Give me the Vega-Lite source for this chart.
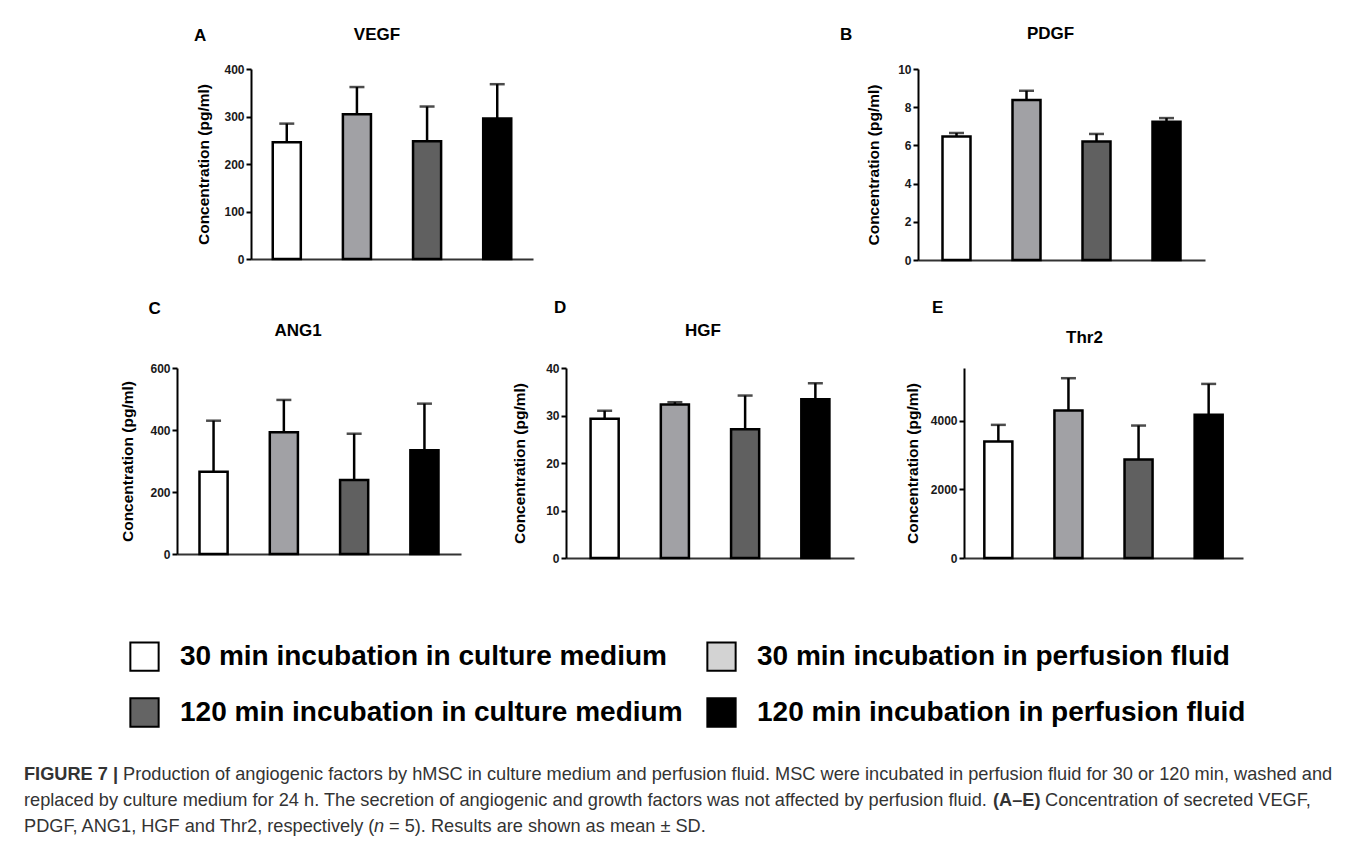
{
  "$schema": "https://vega.github.io/schema/vega-lite/v6.json",
  "background": "white",
  "padding": {"left": 24, "top": 25, "right": 0, "bottom": 0},
  "datasets": {
    "bars": [
      {"panel": "VEGF", "group": "30 min incubation in culture medium", "mean": 246, "upper": 285},
      {"panel": "VEGF", "group": "30 min incubation in perfusion fluid", "mean": 305, "upper": 362},
      {"panel": "VEGF", "group": "120 min incubation in culture medium", "mean": 248, "upper": 321},
      {"panel": "VEGF", "group": "120 min incubation in perfusion fluid", "mean": 296, "upper": 368},
      {"panel": "PDGF", "group": "30 min incubation in culture medium", "mean": 6.46, "upper": 6.65},
      {"panel": "PDGF", "group": "30 min incubation in perfusion fluid", "mean": 8.38, "upper": 8.86},
      {"panel": "PDGF", "group": "120 min incubation in culture medium", "mean": 6.21, "upper": 6.6},
      {"panel": "PDGF", "group": "120 min incubation in perfusion fluid", "mean": 7.24, "upper": 7.43},
      {"panel": "ANG1", "group": "30 min incubation in culture medium", "mean": 265, "upper": 430},
      {"panel": "ANG1", "group": "30 min incubation in perfusion fluid", "mean": 393, "upper": 497},
      {"panel": "ANG1", "group": "120 min incubation in culture medium", "mean": 239, "upper": 388},
      {"panel": "ANG1", "group": "120 min incubation in perfusion fluid", "mean": 335, "upper": 485},
      {"panel": "HGF", "group": "30 min incubation in culture medium", "mean": 29.3, "upper": 31.0},
      {"panel": "HGF", "group": "30 min incubation in perfusion fluid", "mean": 32.3, "upper": 32.8},
      {"panel": "HGF", "group": "120 min incubation in culture medium", "mean": 27.1, "upper": 34.2},
      {"panel": "HGF", "group": "120 min incubation in perfusion fluid", "mean": 33.4, "upper": 36.8},
      {"panel": "Thr2", "group": "30 min incubation in culture medium", "mean": 3390, "upper": 3875},
      {"panel": "Thr2", "group": "30 min incubation in perfusion fluid", "mean": 4291, "upper": 5233},
      {"panel": "Thr2", "group": "120 min incubation in culture medium", "mean": 2866, "upper": 3855},
      {"panel": "Thr2", "group": "120 min incubation in perfusion fluid", "mean": 4166, "upper": 5067}
    ]
  },
  "config": {
    "view": {"stroke": null},
    "font": "Liberation Sans",
    "title": {"font": "Liberation Sans", "fontSize": 17, "fontWeight": "bold", "color": "#000", "baseline": "bottom"},
    "axis": {"labelFont": "Liberation Sans", "labelFontSize": 12, "labelFontWeight": "bold", "labelColor": "#1a1a1a", "labelOverlap": false, "titleFont": "Liberation Sans", "titleFontSize": 15.5, "titleFontWeight": "bold", "titleColor": "#000", "domainColor": "#000", "domainWidth": 2, "tickColor": "#000", "tickWidth": 2, "tickSize": 5, "grid": false, "labelPadding": 2, "titlePadding": 9},
    "tick": {"thickness": 2.5}
  },
  "resolve": {"scale": {"color": "independent"}, "legend": {"color": "independent"}},
  "spacing": 33,
  "vconcat": [
    {
      "spacing": 20,
      "hconcat": [
        {"width": 149, "height": 10, "data": {"values": []}, "mark": "point", "encoding": {}},
        {
          "spacing": 306,
          "hconcat": [
            {
              "title": {"text": "A", "anchor": "start", "frame": "bounds", "dx": -3, "dy": 22, "offset": 3},
              "vconcat": [{
                "width": 282, "height": 190,
                "title": {"text": "VEGF", "anchor": "middle", "dx": -15, "offset": 19.5},
                "data": {"name": "bars"},
                "transform": [{"filter": "datum.panel === 'VEGF'"}],
                "encoding": {
                  "x": {"field": "group", "type": "nominal", "scale": {"domain": ["30 min incubation in culture medium", "30 min incubation in perfusion fluid", "120 min incubation in culture medium", "120 min incubation in perfusion fluid"], "paddingInner": 0.6, "paddingOuter": 0.31}, "axis": {"title": null, "labels": false, "ticks": false, "domainColor": "#333"}}
                },
                "layer": [
                  {"mark": {"type": "bar", "stroke": "#000", "strokeWidth": 2.5}, "encoding": {"y": {"field": "mean", "type": "quantitative", "scale": {"domain": [0, 400], "nice": false}, "axis": {"values": [0, 100, 200, 300, 400], "tickCount": 10, "labelOverlap": false, "title": "Concentration (pg/ml)", "titlePadding": 12}}, "color": {"field": "group", "type": "nominal", "scale": {"domain": ["30 min incubation in culture medium", "30 min incubation in perfusion fluid", "120 min incubation in culture medium", "120 min incubation in perfusion fluid"], "range": ["#ffffff", "#a1a1a5", "#606060", "#000000"]}, "legend": null}}},
                  {"mark": {"type": "rule", "strokeWidth": 2.5, "color": "#000"}, "encoding": {"y": {"field": "mean", "type": "quantitative"}, "y2": {"field": "upper"}}},
                  {"mark": {"type": "tick", "size": 15, "thickness": 2.5, "color": "#000"}, "encoding": {"y": {"field": "upper", "type": "quantitative"}}}
                ]
              }]
            },
            {
              "title": {"text": "B", "anchor": "start", "frame": "bounds", "dx": -27, "dy": 22, "offset": 3},
              "vconcat": [{
                "width": 287, "height": 191,
                "title": {"text": "PDGF", "anchor": "middle", "dx": -11, "offset": 20},
                "data": {"name": "bars"},
                "transform": [{"filter": "datum.panel === 'PDGF'"}],
                "encoding": {
                  "x": {"field": "group", "type": "nominal", "scale": {"domain": ["30 min incubation in culture medium", "30 min incubation in perfusion fluid", "120 min incubation in culture medium", "120 min incubation in perfusion fluid"], "paddingInner": 0.6, "paddingOuter": 0.35}, "axis": {"title": null, "labels": false, "ticks": false, "domainColor": "#333"}}
                },
                "layer": [
                  {"mark": {"type": "bar", "stroke": "#000", "strokeWidth": 2.5}, "encoding": {"y": {"field": "mean", "type": "quantitative", "scale": {"domain": [0, 10], "nice": false}, "axis": {"values": [0, 2, 4, 6, 8, 10], "tickCount": 10, "labelOverlap": false, "title": "Concentration (pg/ml)", "titlePadding": 15.7}}, "color": {"field": "group", "type": "nominal", "scale": {"domain": ["30 min incubation in culture medium", "30 min incubation in perfusion fluid", "120 min incubation in culture medium", "120 min incubation in perfusion fluid"], "range": ["#ffffff", "#a1a1a5", "#606060", "#000000"]}, "legend": null}}},
                  {"mark": {"type": "rule", "strokeWidth": 2.5, "color": "#000"}, "encoding": {"y": {"field": "mean", "type": "quantitative"}, "y2": {"field": "upper"}}},
                  {"mark": {"type": "tick", "size": 15, "thickness": 2.5, "color": "#000"}, "encoding": {"y": {"field": "upper", "type": "quantitative"}}}
                ]
              }]
            }
          ]
        }
      ]
    },
    {
      "spacing": 20,
      "hconcat": [
        {"width": 76, "height": 10, "data": {"values": []}, "mark": "point", "encoding": {}},
        {
          "spacing": 51,
          "hconcat": [
            {
              "title": {"text": "C", "anchor": "start", "frame": "bounds", "dx": 28, "offset": 4.5},
              "vconcat": [{
                "width": 284, "height": 186,
                "title": {"text": "ANG1", "anchor": "middle", "dx": -21, "offset": 22},
                "data": {"name": "bars"},
                "transform": [{"filter": "datum.panel === 'ANG1'"}],
                "encoding": {
                  "x": {"field": "group", "type": "nominal", "scale": {"domain": ["30 min incubation in culture medium", "30 min incubation in perfusion fluid", "120 min incubation in culture medium", "120 min incubation in perfusion fluid"], "paddingInner": 0.6, "paddingOuter": 0.32}, "axis": {"title": null, "labels": false, "ticks": false, "domainColor": "#333"}}
                },
                "layer": [
                  {"mark": {"type": "bar", "stroke": "#000", "strokeWidth": 2.5}, "encoding": {"y": {"field": "mean", "type": "quantitative", "scale": {"domain": [0, 600], "nice": false}, "axis": {"values": [0, 200, 400, 600], "tickCount": 10, "labelOverlap": false, "title": "Concentration (pg/ml)", "titlePadding": 14.5}}, "color": {"field": "group", "type": "nominal", "scale": {"domain": ["30 min incubation in culture medium", "30 min incubation in perfusion fluid", "120 min incubation in culture medium", "120 min incubation in perfusion fluid"], "range": ["#ffffff", "#a1a1a5", "#606060", "#000000"]}, "legend": null}}},
                  {"mark": {"type": "rule", "strokeWidth": 2.5, "color": "#000"}, "encoding": {"y": {"field": "mean", "type": "quantitative"}, "y2": {"field": "upper"}}},
                  {"mark": {"type": "tick", "size": 15, "thickness": 2.5, "color": "#000"}, "encoding": {"y": {"field": "upper", "type": "quantitative"}}}
                ]
              }]
            },
            {
              "title": {"text": "D", "anchor": "start", "frame": "bounds", "dx": 41, "offset": 5},
              "vconcat": [{
                "width": 288, "height": 190,
                "title": {"text": "HGF", "anchor": "middle", "dx": -7, "offset": 22},
                "data": {"name": "bars"},
                "transform": [{"filter": "datum.panel === 'HGF'"}],
                "encoding": {
                  "x": {"field": "group", "type": "nominal", "scale": {"domain": ["30 min incubation in culture medium", "30 min incubation in perfusion fluid", "120 min incubation in culture medium", "120 min incubation in perfusion fluid"], "paddingInner": 0.6, "paddingOuter": 0.35}, "axis": {"title": null, "labels": false, "ticks": false, "domainColor": "#333"}}
                },
                "layer": [
                  {"mark": {"type": "bar", "stroke": "#000", "strokeWidth": 2.5}, "encoding": {"y": {"field": "mean", "type": "quantitative", "scale": {"domain": [0, 40], "nice": false}, "axis": {"values": [0, 10, 20, 30, 40], "tickCount": 10, "labelOverlap": false, "title": "Concentration (pg/ml)", "titlePadding": 17.7}}, "color": {"field": "group", "type": "nominal", "scale": {"domain": ["30 min incubation in culture medium", "30 min incubation in perfusion fluid", "120 min incubation in culture medium", "120 min incubation in perfusion fluid"], "range": ["#ffffff", "#a1a1a5", "#606060", "#000000"]}, "legend": null}}},
                  {"mark": {"type": "rule", "strokeWidth": 2.5, "color": "#000"}, "encoding": {"y": {"field": "mean", "type": "quantitative"}, "y2": {"field": "upper"}}},
                  {"mark": {"type": "tick", "size": 15, "thickness": 2.5, "color": "#000"}, "encoding": {"y": {"field": "upper", "type": "quantitative"}}}
                ]
              }]
            },
            {
              "title": {"text": "E", "anchor": "start", "frame": "bounds", "dx": 27, "offset": 12},
              "vconcat": [{
                "width": 279, "height": 190,
                "title": {"text": "Thr2", "anchor": "middle", "dx": -19, "offset": 21},
                "data": {"name": "bars"},
                "transform": [{"filter": "datum.panel === 'Thr2'"}],
                "encoding": {
                  "x": {"field": "group", "type": "nominal", "scale": {"domain": ["30 min incubation in culture medium", "30 min incubation in perfusion fluid", "120 min incubation in culture medium", "120 min incubation in perfusion fluid"], "paddingInner": 0.6, "paddingOuter": 0.29}, "axis": {"title": null, "labels": false, "ticks": false, "domainColor": "#333"}}
                },
                "layer": [
                  {"mark": {"type": "bar", "stroke": "#000", "strokeWidth": 2.5}, "encoding": {"y": {"field": "mean", "type": "quantitative", "scale": {"domain": [0, 5530], "nice": false}, "axis": {"values": [0, 2000, 4000], "tickCount": 10, "format": "d", "labelOverlap": false, "title": "Concentration (pg/ml)", "titlePadding": 10.3}}, "color": {"field": "group", "type": "nominal", "scale": {"domain": ["30 min incubation in culture medium", "30 min incubation in perfusion fluid", "120 min incubation in culture medium", "120 min incubation in perfusion fluid"], "range": ["#ffffff", "#a1a1a5", "#606060", "#000000"]}, "legend": null}}},
                  {"mark": {"type": "rule", "strokeWidth": 2.5, "color": "#000"}, "encoding": {"y": {"field": "mean", "type": "quantitative"}, "y2": {"field": "upper"}}},
                  {"mark": {"type": "tick", "size": 15, "thickness": 2.5, "color": "#000"}, "encoding": {"y": {"field": "upper", "type": "quantitative"}}}
                ]
              }]
            }
          ]
        }
      ]
    },
    {
      "width": 1300, "height": 125,
      "data": {"name": "bars"},
      "transform": [{"filter": "datum.panel === 'VEGF'"}],
      "mark": {"type": "square", "opacity": 0},
      "encoding": {
        "color": {
          "field": "group", "type": "nominal",
          "scale": {"domain": ["30 min incubation in culture medium", "120 min incubation in culture medium", "30 min incubation in perfusion fluid", "120 min incubation in perfusion fluid"], "range": ["#ffffff", "#646464", "#d3d3d3", "#000000"]},
          "legend": {
            "orient": "none", "legendX": 105, "legendY": 44, "columns": 2, "title": null, "padding": 0,
            "symbolType": "square", "symbolSize": 800, "symbolStrokeWidth": 2, "symbolStrokeColor": "#000", "symbolOpacity": 1,
            "labelFont": "Liberation Sans", "labelFontSize": 28, "labelFontWeight": "bold", "labelColor": "#000",
            "labelOffset": 20, "labelLimit": 1000, "columnPadding": 20, "rowPadding": 19, "labelBaseline": "middle",
            "encode": {"symbols": {"update": {"stroke": {"value": "#000"}, "strokeWidth": {"value": 2}, "opacity": {"value": 1}}}}
          }
        }
      }
    },
    {
      "width": 1320, "height": 60,
      "encoding": {
        "y": {"field": "line", "type": "ordinal", "axis": null, "scale": {"domain": [1, 2, 3], "padding": 0.15}},
        "x": {"value": 0},
        "text": {"field": "text"}
      },
      "layer": [
        {"data": {"values": [{"line": 1, "text": "FIGURE 7 |"}]}, "mark": {"type": "text", "align": "left", "baseline": "middle", "fontWeight": "bold", "fontSize": 18.2, "font": "Liberation Sans", "color": "#333"}},
        {"data": {"values": [{"line": 1, "text": "Production of angiogenic factors by hMSC in culture medium and perfusion fluid. MSC were incubated in perfusion fluid for 30 or 120 min, washed and"}]}, "mark": {"type": "text", "align": "left", "baseline": "middle", "dx": 99, "fontSize": 18.2, "font": "Liberation Sans", "color": "#333"}},
        {"data": {"values": [{"line": 2, "text": "replaced by culture medium for 24 h. The secretion of angiogenic and growth factors was not affected by perfusion fluid."}]}, "mark": {"type": "text", "align": "left", "baseline": "middle", "fontSize": 18.2, "font": "Liberation Sans", "color": "#333"}},
        {"data": {"values": [{"line": 2, "text": "(A–E)"}]}, "mark": {"type": "text", "align": "left", "baseline": "middle", "dx": 969, "fontWeight": "bold", "fontSize": 18.2, "font": "Liberation Sans", "color": "#333"}},
        {"data": {"values": [{"line": 2, "text": "Concentration of secreted VEGF,"}]}, "mark": {"type": "text", "align": "left", "baseline": "middle", "dx": 1021, "fontSize": 18.2, "font": "Liberation Sans", "color": "#333"}},
        {"data": {"values": [{"line": 3, "text": "PDGF, ANG1, HGF and Thr2, respectively ("}]}, "mark": {"type": "text", "align": "left", "baseline": "middle", "fontSize": 18.2, "font": "Liberation Sans", "color": "#333"}},
        {"data": {"values": [{"line": 3, "text": "n"}]}, "mark": {"type": "text", "align": "left", "baseline": "middle", "dx": 350, "fontStyle": "italic", "fontSize": 18.2, "font": "Liberation Sans", "color": "#333"}},
        {"data": {"values": [{"line": 3, "text": "= 5). Results are shown as mean ± SD."}]}, "mark": {"type": "text", "align": "left", "baseline": "middle", "dx": 365, "fontSize": 18.2, "font": "Liberation Sans", "color": "#333"}}
      ]
    }
  ]
}
